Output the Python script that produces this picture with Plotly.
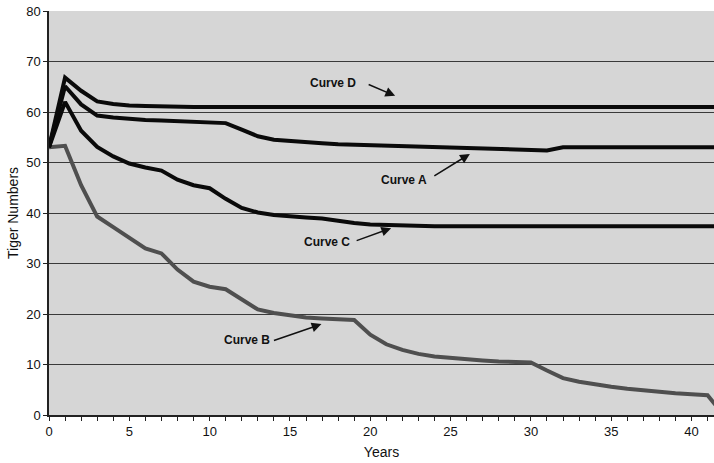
import plotly.graph_objects as go

years = list(range(0, 43))

curve_d = [53.0, 66.8, 64.2, 62.1, 61.6, 61.3, 61.2, 61.1, 61.05, 61.0,
           61.0, 61.0, 61.0, 61.0, 61.0, 61.0, 61.0, 61.0, 61.0, 61.0,
           61.0, 61.0, 61.0, 61.0, 61.0, 61.0, 61.0, 61.0, 61.0, 61.0,
           61.0, 61.0, 61.0, 61.0, 61.0, 61.0, 61.0, 61.0, 61.0, 61.0,
           61.0, 61.0, 61.0]

curve_a = [53.0, 65.1, 61.5, 59.3, 58.9, 58.6, 58.4, 58.3, 58.2, 58.1,
           58.0, 57.8, 56.5, 55.2, 54.5, 54.2, 54.0, 53.8, 53.6, 53.5,
           53.4, 53.3, 53.2, 53.1, 53.0, 52.9, 52.85, 52.8, 52.7, 52.6,
           52.5, 52.4, 53.0, 53.0, 53.0, 53.0, 53.0, 53.0, 53.0, 53.0,
           53.0, 53.0, 53.0]

curve_c = [53.0, 62.0, 56.3, 53.1, 51.2, 49.8, 49.0, 48.4, 46.6, 45.5,
           44.9, 42.8, 41.0, 40.1, 39.6, 39.3, 39.1, 38.9, 38.4, 38.0,
           37.7, 37.6, 37.5, 37.45, 37.4, 37.4, 37.4, 37.4, 37.4, 37.4,
           37.4, 37.4, 37.4, 37.4, 37.4, 37.4, 37.4, 37.4, 37.4, 37.4,
           37.4, 37.4, 37.4]

curve_b = [53.0, 53.3, 45.5, 39.3, 37.2, 35.0, 33.0, 32.0, 28.8, 26.4,
           25.4, 24.9, 22.8, 20.9, 20.2, 19.7, 19.3, 19.1, 18.9, 18.8,
           15.9, 14.0, 12.9, 12.1, 11.6, 11.3, 11.0, 10.8, 10.6, 10.5,
           10.4, 8.8, 7.3, 6.6, 6.0, 5.6, 5.2, 4.9, 4.5, 4.3,
           4.1, 3.9, 0.0]

y_ticks = [0, 10, 20, 30, 40, 50, 60, 70, 80]
x_ticks = [0, 5, 10, 15, 20, 25, 30, 35, 40]

# annotation labels: (text, text_x, text_y, tip_x, tip_y, ax, ay)
labels = [
    ("Curve D", 17.7, 65.7, 21.55, 63.2, -28, -12),
    ("Curve A", 22.1, 46.5, 26.2, 51.7, -37, 23),
    ("Curve C", 17.3, 34.3, 21.3, 37.0, -36, 13),
    ("Curve B", 12.3, 14.9, 16.96, 18.0, -49, 17),
]

FONT = "Liberation Sans, Arial, sans-serif"

fig = go.Figure()
fig.add_trace(go.Scatter(x=years, y=curve_b, mode="lines",
                         line=dict(color="#4f4f4f", width=4), name="Curve B"))
fig.add_trace(go.Scatter(x=years, y=curve_c, mode="lines",
                         line=dict(color="#0a0a0a", width=4), name="Curve C"))
fig.add_trace(go.Scatter(x=years, y=curve_a, mode="lines",
                         line=dict(color="#0a0a0a", width=4), name="Curve A"))
fig.add_trace(go.Scatter(x=years, y=curve_d, mode="lines",
                         line=dict(color="#0a0a0a", width=4), name="Curve D"))

annotations = []
for text, tx, ty, px, py, ax, ay in labels:
    annotations.append(dict(x=tx, y=ty, xref="x", yref="y", text="<b>%s</b>" % text,
                            showarrow=False, font=dict(family=FONT, size=12, color="#111")))
    annotations.append(dict(x=px, y=py, xref="x", yref="y", text="", showarrow=True,
                            ax=ax, ay=ay, arrowhead=2, arrowsize=1.3, arrowwidth=1.5,
                            arrowcolor="#111", standoff=0, startstandoff=0))

fig.update_layout(
    width=714, height=463,
    margin=dict(l=49, r=0, t=11, b=48),
    paper_bgcolor="white",
    plot_bgcolor="#d6d6d6",
    showlegend=False,
    font=dict(family=FONT, size=13, color="#111"),
    annotations=annotations,
    xaxis=dict(range=[0, 41.4], tickvals=x_ticks, ticktext=[str(v) for v in x_ticks],
               ticks="outside", ticklen=4, tickcolor="#222", tickwidth=1,
               minor=dict(dtick=1, ticks="outside", ticklen=4, tickcolor="#222", tickwidth=1),
               showline=True, linecolor="#222", linewidth=1.5,
               showgrid=False, zeroline=False, automargin=False,
               tickfont=dict(size=13),
               title=dict(text="Years", standoff=9, font=dict(size=14))),
    yaxis=dict(range=[0, 80], tickvals=y_ticks, ticktext=[str(v) for v in y_ticks],
               ticks="outside", ticklen=4, tickcolor="#222", tickwidth=1,
               showline=True, linecolor="#222", linewidth=1.5,
               showgrid=True, gridcolor="#3a3a3a", gridwidth=1, zeroline=False,
               automargin=False, tickfont=dict(size=13),
               title=dict(text="Tiger Numbers", standoff=4, font=dict(size=14))),
)

fig.write_html("out.html", config={"displayModeBar": False},
               post_script="document.body.style.margin='0';document.body.style.overflow='hidden';")
